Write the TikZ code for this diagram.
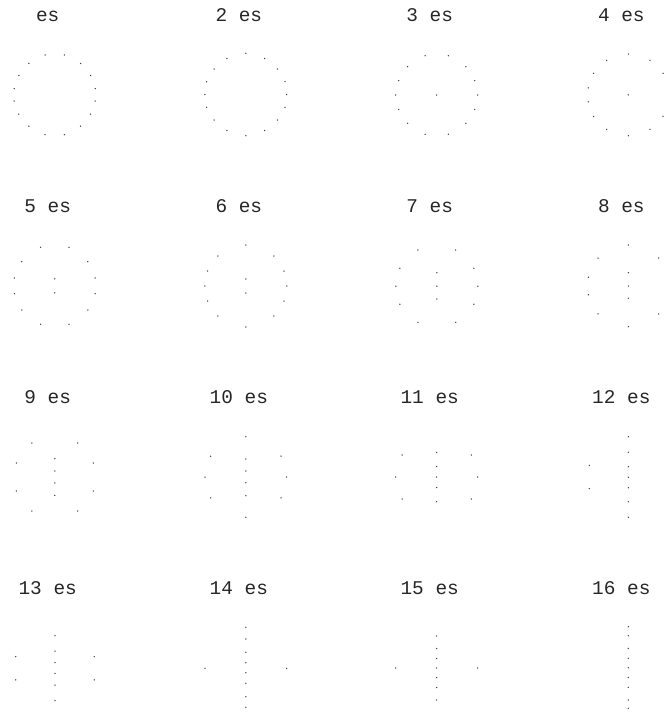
\documentclass[tikz,border=0pt]{standalone}
\usepackage{fontspec}
\setmainfont{Liberation Mono}
\begin{document}
\begin{tikzpicture}[x=1pt,y=-1pt,
  dotc/.style={fill=black!75},
  lbl/.style={anchor=base,inner sep=0pt,font=\fontsize{19.4}{22}\selectfont,text=black!85}]
\useasboundingbox (0,0) rectangle (665,715);
\fill[white] (0,0) rectangle (665,715);
\newcommand\qd[1]{\foreach \a/\b in {#1}{\fill[dotc] (\a,\b) circle[radius=0.75] (-\a,\b) circle[radius=0.75] (\a,-\b) circle[radius=0.75] (-\a,-\b) circle[radius=0.75];}}
\newcommand\sg[1]{\foreach \a/\b in {#1}{\fill[dotc] (\a,\b) circle[radius=0.75];}}
% labels (row baselines)
\node[lbl] (l1) at (47.7,21.8) {es};
\node[lbl] (l2) at (238.8,21.8) {2 es};
\node[lbl] (l3) at (429.7,21.8) {3 es};
\node[lbl] (l4) at (621.3,21.8) {4 es};
\node[lbl] (l5) at (47.7,212.8) {5 es};
\node[lbl] (l6) at (238.8,212.8) {6 es};
\node[lbl] (l7) at (429.7,212.8) {7 es};
\node[lbl] (l8) at (621.3,212.8) {8 es};
\node[lbl] (l9) at (47.7,403.8) {9 es};
\node[lbl] (l10) at (238.8,403.8) {10 es};
\node[lbl] (l11) at (429.7,403.8) {11 es};
\node[lbl] (l12) at (621.3,403.8) {12 es};
\node[lbl] (l13) at (47.7,594.8) {13 es};
\node[lbl] (l14) at (238.8,594.8) {14 es};
\node[lbl] (l15) at (429.7,594.8) {15 es};
\node[lbl] (l16) at (621.3,594.8) {16 es};
% row 1
\begin{scope}[shift={(54.7,94.8)}]
\qd{9.65/39.85, 25.85/31.35, 35.85/19.3, 40.5/6.2}
\end{scope}
\begin{scope}[shift={(245.8,94.5)}]
\qd{18.9/36, 31.65/25.5, 39.15/12.8}
\sg{0/-41.2, 0/41.2, -40.85/0, 40.85/0}
\end{scope}
\begin{scope}[shift={(436.7,95)}]
\qd{11.65/39.3, 29.15/28.3, 38/14.4}
\sg{-41/0, 41/0, 0/0}
\end{scope}
\begin{scope}[shift={(628.3,94.85)}]
\qd{21.65/34.5, 34.7/21.6, 40/7}
\sg{0/-40.85, 0/40.85, 0/0}
\end{scope}
% row 2
\begin{scope}[shift={(54.8,285.8)}]
\qd{14.15/38.5, 33/24.2, 40.35/7.85}
\sg{0/-7, 0/7}
\end{scope}
\begin{scope}[shift={(245.8,286)}]
\qd{28/30, 38.2/15}
\sg{0/-41, 0/41, -41/0, 41/0, 0/-7, 0/7}
\end{scope}
\begin{scope}[shift={(436.8,286.2)}]
\qd{18.85/36.2, 37/18}
\sg{-41/0, 41/0, 0/-13.5, 0/0, 0/12.8}
\end{scope}
\begin{scope}[shift={(628.3,286)}]
\qd{30.3/27.9, 40/8.8}
\sg{0/-41, 0/40.7, 0/-13.3, 0/0, 0/12.3}
\end{scope}
% row 3
\begin{scope}[shift={(54.8,477)}]
\qd{22.9/34, 38.5/14}
\sg{0/-18.3, 0/-6, 0/6, 0/18.3}
\end{scope}
\begin{scope}[shift={(245.85,477)}]
\qd{35.15/20.8}
\sg{0/-40.3, 0/40.3, -40.85/0, 40.85/0, 0/-18, 0/-6, 0/5.7, 0/18.7}
\end{scope}
\begin{scope}[shift={(436.7,477)}]
\qd{34.6/22}
\sg{-41/0, 41/0, 0/-24.7, 0/-10.5, 0/0, 0/10.5, 0/24.7}
\end{scope}
\begin{scope}[shift={(628.3,477)}]
\qd{39/11.65}
\sg{0/-40.3, 0/40.3, 0/-24.7, 0/-10.3, 0/0.3, 0/10.7, 0/24.7}
\end{scope}
% row 4
\begin{scope}[shift={(55,668.2)}]
\qd{39.3/11.65}
\sg{0/-32.5, 0/-17.2, 0/-5.5, 0/5.1, 0/16.8, 0/32.5}
\end{scope}
\begin{scope}[shift={(245.85,667.3)}]
\sg{0/-40, 0/40, -40.85/1, 40.85/1, 0/-28.3, 0/-15, 0/-4.6, 0/5.4, 0/16, 0/29.4}
\end{scope}
\begin{scope}[shift={(436.7,668)}]
\sg{-41/0, 41/0, 0/-32, 0/-19.5, 0/-9.5, 0/0, 0/9.5, 0/19.5, 0/32}
\end{scope}
\begin{scope}[shift={(628.3,667.5)}]
\sg{0/-40.8, 0/40.8, 0/-31.8, 0/-19.2, 0/-9.2, 0/0.2, 0/9.8, 0/19.8, 0/32.5}
\end{scope}
\end{tikzpicture}
\end{document}
